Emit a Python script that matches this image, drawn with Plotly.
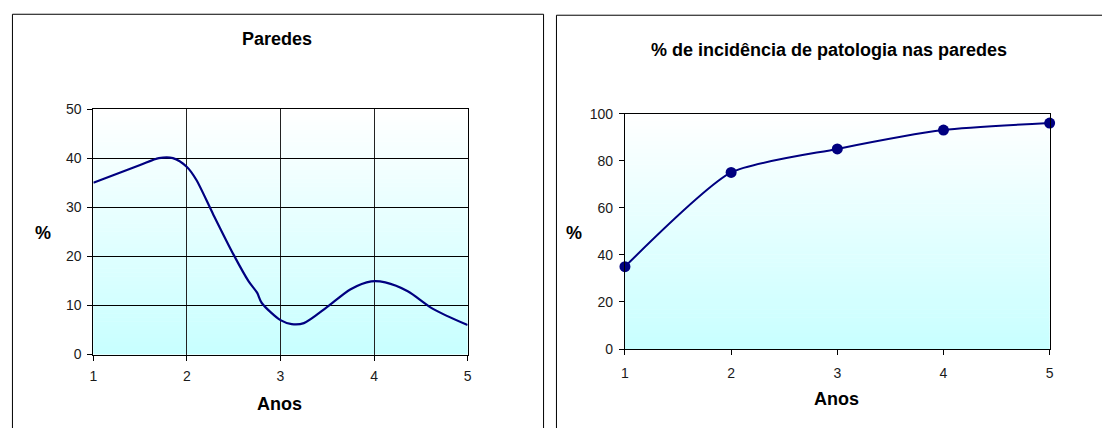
import plotly.graph_objects as go

W, H = 1102, 428
FONT = "Liberation Sans, Arial, sans-serif"
NAVY = "#000080"

# Paredes: percentage over the years (smoothed curve)
anos_paredes = [1, 1.5, 1.7, 1.85, 2.0, 2.1, 2.28, 2.5, 2.66, 2.75, 2.8, 3.0,
                3.12, 3.25, 3.5, 3.75, 3.97, 4.12, 4.36, 4.63, 5.0]
pct_paredes = [35, 38.6, 40, 40, 38.2, 35.6, 28.6, 20.3, 14.9, 12.6, 10.5, 7.0,
               6.2, 6.4, 9.7, 13.3, 14.9, 14.7, 12.9, 9.3, 6.0]

# Incidence of pathology in the walls (%)
anos_incid = [1, 2, 3, 4, 5]
pct_incid = [35, 75, 85, 93, 96]

ticks_x = [1, 2, 3, 4, 5]
ticks_y_left = [0, 10, 20, 30, 40, 50]
ticks_y_right = [0, 20, 40, 60, 80, 100]

titulo_esq = "Paredes"
titulo_dir = "% de incidência de patologia nas paredes"
rotulo_x = "Anos"
rotulo_y = "%"


def fx(px):
    return px / W


def fy(py):
    return 1 - py / H


fig = go.Figure()

fig.add_trace(go.Scatter(
    x=anos_paredes, y=pct_paredes, mode="lines",
    line=dict(color=NAVY, width=2.2, shape="spline", smoothing=0.8),
    xaxis="x", yaxis="y", hoverinfo="skip"))

fig.add_trace(go.Scatter(
    x=anos_incid, y=pct_incid, mode="lines+markers",
    line=dict(color=NAVY, width=2, shape="spline", smoothing=0.6),
    marker=dict(size=11, color=NAVY),
    xaxis="x2", yaxis="y2", cliponaxis=False, hoverinfo="skip"))

tickfont = dict(family=FONT, size=14, color="#1a1a1a")
base = dict(showline=True, linecolor="black", linewidth=1, mirror=True,
            ticks="outside", ticklen=5, tickcolor="black", tickwidth=1,
            tickfont=tickfont, zeroline=False, fixedrange=True)

fig.update_layout(
    width=W, height=H,
    margin=dict(l=0, r=0, t=0, b=0),
    paper_bgcolor="white", plot_bgcolor="white",
    showlegend=False,
    xaxis=dict(base, domain=[fx(90), fx(467)], range=[1, 5], tickvals=ticks_x,
               showgrid=True, gridcolor="#222222", gridwidth=1, anchor="y",
               ticklabelstandoff=4),
    yaxis=dict(base, domain=[fy(360), fy(105)], range=[0, 50], tickvals=ticks_y_left,
               showgrid=True, gridcolor="black", gridwidth=1, anchor="x",
               ticklabelstandoff=3),
    xaxis2=dict(base, domain=[fx(625.5), fx(1053.3)], range=[1, 5], tickvals=ticks_x,
                showgrid=False, anchor="y2", ticklabelstandoff=6),
    yaxis2=dict(base, domain=[fy(354.3), fy(109.7)], range=[0, 100], tickvals=ticks_y_right,
                showgrid=False, anchor="x2", ticklabelstandoff=3),
)

# White-to-turquoise gradient behind each plot area
shapes = []
N = 60
for xr, yr in (("x domain", "y domain"), ("x2 domain", "y2 domain")):
    for i in range(N):
        f = (i + 0.5) / N
        r = int(round(200 + 55 * f))
        shapes.append(dict(type="rect", xref=xr, yref=yr, x0=0, x1=1,
                           y0=i / N, y1=(i + 1) / N + 0.002,
                           fillcolor=f"rgb({r},255,255)", line=dict(width=0),
                           layer="below"))

# Chart frames
shapes.append(dict(type="rect", xref="paper", yref="paper",
                   x0=fx(8.5), x1=fx(543.5), y0=-0.05, y1=fy(6.5),
                   line=dict(color="black", width=1), fillcolor="rgba(0,0,0,0)"))
shapes.append(dict(type="rect", xref="paper", yref="paper",
                   x0=fx(556.5), x1=1.05, y0=-0.05, y1=fy(7.5),
                   line=dict(color="black", width=1), fillcolor="rgba(0,0,0,0)"))
fig.update_layout(shapes=shapes)

bold = dict(family=FONT, size=18, color="black")


def label(text, px, py, angle=0):
    return dict(text=f"<b>{text}</b>", xref="paper", yref="paper",
                x=fx(px), y=fy(py), xanchor="center", yanchor="middle",
                showarrow=False, font=bold, textangle=angle)


fig.update_layout(annotations=[
    label(titulo_esq, 275, 32),
    label(titulo_dir, 831, 44),
    label(rotulo_x, 277.5, 411),
    label(rotulo_x, 839, 406),
    label(rotulo_y, 39, 234),
    label(rotulo_y, 574.5, 234),
])

fig.write_html("out.html")
